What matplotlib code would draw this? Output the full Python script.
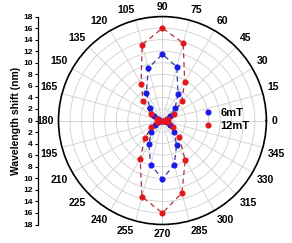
import numpy as np
import matplotlib

matplotlib.use("Agg")
import matplotlib.pyplot as plt

plt.rcParams["font.family"] = ["Liberation Sans", "DejaVu Sans"]
plt.rcParams["font.weight"] = "bold"

# angle of the field (deg) and wavelength shift (nm)
angles = [0, 15, 30, 45, 60, 75, 90, 105, 120, 135, 150, 165,
          180, 195, 210, 225, 240, 255, 270, 285, 300, 315, 330, 345]
shift_6mT = [0.3, 0.8, 1.6, 3.1, 5.4, 9.6, 11.5, 9.4, 5.6, 3.1, 1.6, 0.8,
             0.3, 0.8, 1.5, 2.7, 4.7, 7.9, 10.1, 7.9, 4.9, 2.9, 1.5, 0.8]
shift_12mT = [0.3, 1.0, 2.3, 4.7, 7.7, 13.9, 16.0, 13.6, 7.4, 4.7, 2.3, 1.0,
              0.3, 1.0, 2.2, 4.3, 7.7, 13.7, 16.0, 13.0, 7.9, 4.1, 2.2, 1.0]
series_labels = ["6mT", "12mT"]
theta_ticks = list(range(0, 360, 15))
r_ticks = list(range(-18, 19, 2))

theta = np.deg2rad(angles)

fig = plt.figure(figsize=(2.92, 2.43), dpi=100)
ax = fig.add_axes([0.2003, 0.076, 0.712, 0.856], projection="polar")

ax.set_rlim(0, 18)
ax.set_rgrids(range(2, 19, 2), labels=[""] * 9)
ax.set_thetagrids(theta_ticks, labels=[""] * len(theta_ticks))
ax.tick_params(axis="x", length=3, direction="out", width=0.8)
ax.grid(True, color="#cfcfcf", lw=0.6)
ax.spines["polar"].set_linewidth(1.2)

# angle labels just outside the rim
for a in theta_ticks:
    c, s = np.cos(np.deg2rad(a)), np.sin(np.deg2rad(a))
    ha = "left" if c > 0.2 else ("right" if c < -0.2 else "center")
    va = "bottom" if s > 0.2 else ("top" if s < -0.2 else "center")
    ax.annotate(str(a), xy=(np.deg2rad(a), 18), xytext=(3.6 * c, 3.6 * s),
                textcoords="offset points", ha=ha, va=va, fontsize=7.5,
                fontweight="bold", annotation_clip=False)

# dashed guide curves (closed loops through the measured points)
th_closed = np.append(theta, theta[0])
ax.plot(th_closed, np.append(shift_6mT, shift_6mT[0]), ls=(0, (4, 3)),
        color="#2a3f9e", lw=0.9, zorder=3)
ax.plot(th_closed, np.append(shift_12mT, shift_12mT[0]), ls=(0, (4, 3)),
        color="#b23232", lw=0.9, zorder=3)

ax.plot(theta, shift_6mT, ls="none", marker="o", ms=3.4, color="#1a1ae6",
        label=series_labels[0], zorder=4)
ax.plot(theta, shift_12mT, ls="none", marker="o", ms=3.4, color="#e3161e",
        label=series_labels[1], zorder=4)

ax.legend(loc="center left", bbox_to_anchor=(204 / 292, 1 - 119.5 / 243),
          bbox_transform=fig.transFigure, frameon=False,
          handlelength=0.8, handletextpad=0.7, borderpad=0, labelspacing=0.25,
          borderaxespad=0, prop={"weight": "bold", "size": 8})

# linear radial scale drawn on the left
axl = fig.add_axes([0.129, 0.076, 0.001, 0.856])
axl.set_ylim(-18, 18)
axl.set_yticks(r_ticks)
axl.set_yticklabels([str(abs(t)) for t in r_ticks], fontsize=6, fontweight="bold")
axl.set_xticks([])
for s in ["top", "right", "bottom"]:
    axl.spines[s].set_visible(False)
axl.spines["left"].set_linewidth(0.9)
axl.tick_params(axis="y", length=2.5, width=0.8, pad=1)
axl.patch.set_alpha(0)
axl.set_ylabel("Wavelength shift (nm)", fontsize=7.5, fontweight="bold", labelpad=2)

fig.savefig("out.png", dpi=100)
